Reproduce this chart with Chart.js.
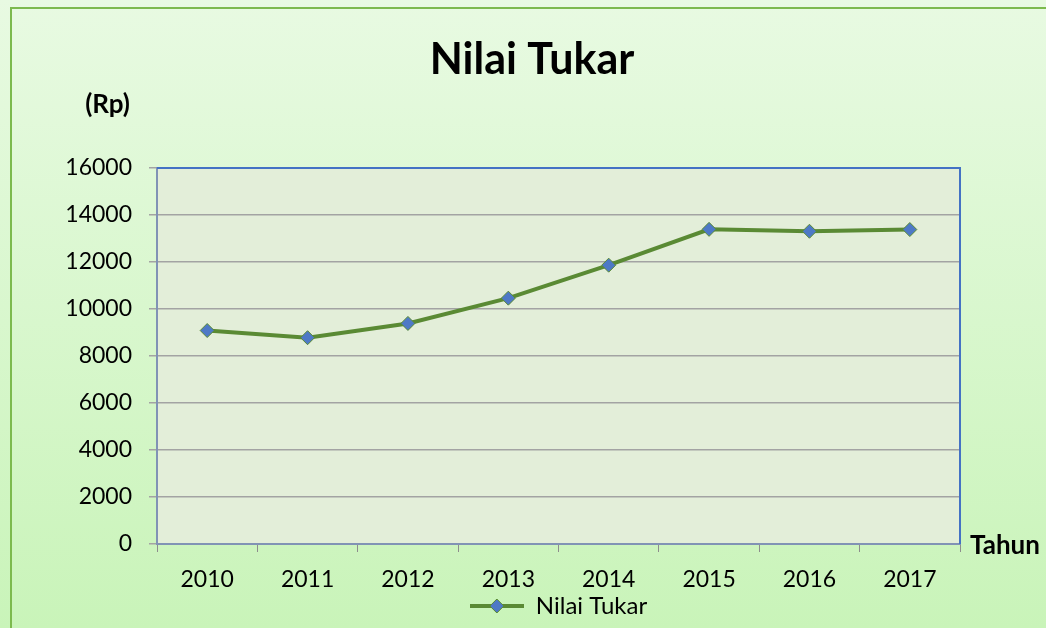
<!DOCTYPE html>
<html>
<head>
<meta charset="utf-8">
<script src="https://cdn.jsdelivr.net/npm/chart.js@4"></script>
<style>
  html, body { margin: 0; padding: 0; background: #fff; }
  #wrap { width: 1046px; height: 628px; position: relative; }
</style>
</head>
<body>
<div id="wrap"><canvas id="kurs" width="1046" height="628"></canvas></div>
<script>
// Data
const years = ['2010', '2011', '2012', '2013', '2014', '2015', '2016', '2017'];
const nilaiTukar = [9084, 8779, 9386, 10461, 11865, 13389, 13308, 13381];
const seriesName = 'Nilai Tukar';
const yTicks = [0, 2000, 4000, 6000, 8000, 10000, 12000, 14000, 16000];

const FONT = 'Lato, "Open Sans", sans-serif';
const lineColor = '#5a8a34';
const markerColor = '#4e79c6';

// legend symbol: line with a diamond in the middle
function legendSymbol() {
    const c = document.createElement('canvas');
    c.width = 54; c.height = 16;
    const g = c.getContext('2d');
    g.strokeStyle = lineColor;
    g.lineWidth = 4;
    g.beginPath(); g.moveTo(0, 8); g.lineTo(54, 8); g.stroke();
    g.fillStyle = markerColor;
    g.strokeStyle = lineColor;
    g.lineWidth = 1;
    g.beginPath();
    g.moveTo(27, 1); g.lineTo(34, 8); g.lineTo(27, 15); g.lineTo(20, 8); g.closePath();
    g.fill(); g.stroke();
    return c;
}

// background, frame, plot fill and the loose labels
const decor = {
    id: 'decor',
    beforeDraw(chart) {
        const ctx = chart.ctx;
        const a = chart.chartArea;
        ctx.save();
        const grad = ctx.createLinearGradient(0, 0, 0, chart.height);
        grad.addColorStop(0, '#e8fae2');
        grad.addColorStop(1, '#c9f4b9');
        ctx.fillStyle = grad;
        ctx.fillRect(0, 0, chart.width, chart.height);
        ctx.strokeStyle = '#7cba4e';
        ctx.lineWidth = 2;
        ctx.strokeRect(11, 8, chart.width + 20, chart.height + 20);
        ctx.fillStyle = '#e3eed9';
        ctx.fillRect(a.left, a.top, a.right - a.left, a.bottom - a.top);
        ctx.restore();
    },
    afterDraw(chart) {
        const ctx = chart.ctx;
        const a = chart.chartArea;
        ctx.save();
        ctx.strokeStyle = '#4472c4';
        ctx.lineWidth = 2;
        ctx.beginPath();
        ctx.moveTo(a.left, a.top); ctx.lineTo(a.right, a.top); ctx.lineTo(a.right, a.bottom);
        ctx.stroke();
        ctx.fillStyle = '#000';
        ctx.font = 'bold 26px ' + FONT;
        ctx.textBaseline = 'middle';
        ctx.textAlign = 'right';
        ctx.fillText('(Rp)', 130, 105);
        ctx.textAlign = 'left';
        ctx.fillText('Tahun', 970, 546);
        ctx.restore();
    }
};

const ctx = document.getElementById('kurs').getContext('2d');
new Chart(ctx, {
    type: 'line',
    data: {
        labels: years,
        datasets: [{
            label: seriesName,
            data: nilaiTukar,
            borderColor: lineColor,
            borderWidth: 4,
            backgroundColor: markerColor,
            pointStyle: 'rectRot',
            pointRadius: 7,
            pointBorderColor: lineColor,
            pointBorderWidth: 1,
            pointBackgroundColor: markerColor,
            tension: 0,
            fill: false
        }]
    },
    options: {
        responsive: false,
        animation: false,
        layout: { padding: { left: 18, right: 0, top: 0, bottom: 0 } },
        plugins: {
            title: {
                display: true,
                text: 'Nilai Tukar',
                color: '#000',
                font: { family: FONT, size: 43, weight: 'bold' },
                padding: { top: 34, bottom: 82.4 }
            },
            legend: {
                display: true,
                position: 'bottom',
                fullSize: false,
                labels: {
                    usePointStyle: true,
                    pointStyle: legendSymbol(),
                    pointStyleWidth: 54,
                    color: '#000',
                    font: { family: FONT, size: 24 },
                    padding: 4
                }
            },
            tooltip: { enabled: false }
        },
        scales: {
            x: {
                offset: true,
                grid: {
                    offset: true,
                    drawOnChartArea: false,
                    drawTicks: true,
                    tickLength: 8,
                    color: '#8d8d8d'
                },
                border: { color: '#8193b5', width: 2 },
                ticks: {
                    color: '#000',
                    font: { family: FONT, size: 23 },
                    padding: 14,
                    maxRotation: 0
                },
                afterFit(scale) { scale.height = 46; }
            },
            y: {
                min: 0,
                max: 16000,
                afterBuildTicks(scale) { scale.ticks = yTicks.map(v => ({ value: v })); },
                grid: {
                    color: '#a3a3a3',
                    lineWidth: 1.5,
                    tickLength: 8,
                    drawTicks: true
                },
                border: { color: '#8193b5', width: 2 },
                ticks: {
                    color: '#000',
                    font: { family: FONT, size: 23 },
                    padding: 17,
                    callback: v => String(v)
                },
                afterFit(scale) { scale.width = 139; }
            },
            y2: {
                position: 'right',
                display: true,
                grid: { display: false, drawTicks: false },
                border: { display: false },
                ticks: { display: false },
                afterFit(scale) { scale.width = 86; }
            }
        }
    },
    plugins: [decor]
});
</script>
</body>
</html>
